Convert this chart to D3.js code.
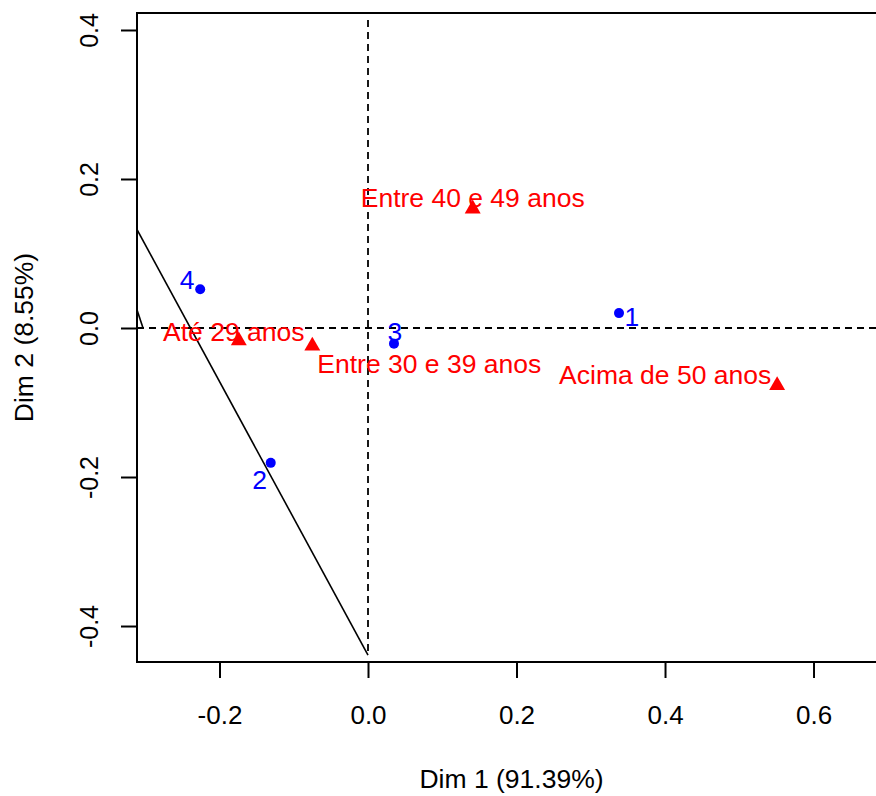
<!DOCTYPE html>
<html>
<head>
<meta charset="utf-8">
<script src="https://cdn.jsdelivr.net/npm/d3@7"></script>
<style>
  body { margin: 0; background: #fff; }
  svg { display: block; font-family: "Liberation Sans", Arial, sans-serif; }
</style>
</head>
<body>
<svg width="876" height="796"></svg>
<script>
// row points (blue)
const rowNames = ['1', '2', '3', '4'];
const rowDim1 = [0.338, -0.131, 0.035, -0.226];
const rowDim2 = [0.020, -0.181, -0.021, 0.052];

// column points (red)
const colNames = ['Até 29 anos', 'Entre 30 e 39 anos', 'Entre 40 e 49 anos', 'Acima de 50 anos'];
const colDim1 = [-0.174, -0.075, 0.141, 0.551];
const colDim2 = [-0.017, -0.024, 0.160, -0.077];

// solid segments
const segX = [[0.0, -0.311], [-0.311, -0.303]];
const segY = [[-0.439, 0.132], [0.024, 0.0]];

const xTicks = [-0.2, 0.0, 0.2, 0.4, 0.6];
const yTicks = [-0.4, -0.2, 0.0, 0.2, 0.4];
const xTitle = 'Dim 1 (91.39%)';
const yTitle = 'Dim 2 (8.55%)';

// label nudges in px (layout, not data)
const rowNudge = [[13, 4], [-11, 17], [1, -12], [-13, -9]];
const colNudge = [[-5, 0], [117, 27], [0, -2], [-112, -1]];

const svg = d3.select('svg');
const mLeft = 137, mRight = 886, mTop = 13, mBottom = 662;

const x = d3.scaleLinear().domain([-0.3111, 0.6976]).range([mLeft, mRight]);
const y = d3.scaleLinear().domain([-0.4483, 0.4228]).range([mBottom, mTop]);

// R style labels: plain hyphen for minus
const fmt = d => d3.format('.1f')(d).replace('\u2212', '-');

svg.append('clipPath').attr('id', 'clip')
    .append('rect')
    .attr('x', mLeft).attr('y', mTop)
    .attr('width', mRight - mLeft).attr('height', mBottom - mTop);

const plot = svg.append('g').attr('clip-path', 'url(#clip)');

// dashed reference lines
plot.append('line')
    .attr('x1', x(0)).attr('x2', x(0))
    .attr('y1', 20).attr('y2', y(-0.439))
    .attr('stroke', '#000').attr('stroke-width', 1.8)
    .attr('stroke-dasharray', '7,5');
plot.append('line')
    .attr('x1', mLeft).attr('x2', mRight)
    .attr('y1', y(0)).attr('y2', y(0))
    .attr('stroke', '#000').attr('stroke-width', 1.8)
    .attr('stroke-dasharray', '7,5');

// solid segments
segX.forEach((sx, i) => {
    plot.append('line')
        .attr('x1', x(sx[0])).attr('y1', y(segY[i][0]))
        .attr('x2', x(sx[1])).attr('y2', y(segY[i][1]))
        .attr('stroke', '#000').attr('stroke-width', 1.6);
});

// red triangles + labels
const tri = d3.symbol().type(d3.symbolTriangle).size(110);
colNames.forEach((name, i) => {
    const px = x(colDim1[i]), py = y(colDim2[i]);
    plot.append('path')
        .attr('d', tri)
        .attr('transform', `translate(${px},${py})`)
        .attr('fill', '#ff0000');
    plot.append('text')
        .attr('x', px + colNudge[i][0])
        .attr('y', py + colNudge[i][1])
        .attr('text-anchor', 'middle')
        .attr('font-size', 26.5)
        .attr('fill', '#ff0000')
        .text(name);
});

// blue points + labels
rowNames.forEach((name, i) => {
    const px = x(rowDim1[i]), py = y(rowDim2[i]);
    plot.append('circle')
        .attr('cx', px).attr('cy', py).attr('r', 5)
        .attr('fill', '#0000ff');
    plot.append('text')
        .attr('x', px + rowNudge[i][0])
        .attr('y', py + rowNudge[i][1])
        .attr('text-anchor', 'middle')
        .attr('dominant-baseline', 'central')
        .attr('font-size', 26.5)
        .attr('fill', '#0000ff')
        .text(name);
});

// box
svg.append('rect')
    .attr('x', mLeft).attr('y', mTop)
    .attr('width', mRight - mLeft).attr('height', mBottom - mTop)
    .attr('fill', 'none').attr('stroke', '#000').attr('stroke-width', 2);

// axes
const xAxis = svg.append('g')
    .attr('transform', `translate(0,${mBottom})`)
    .call(d3.axisBottom(x).tickValues(xTicks).tickFormat(fmt).tickSize(16));
const yAxis = svg.append('g')
    .attr('transform', `translate(${mLeft},0)`)
    .call(d3.axisLeft(y).tickValues(yTicks).tickFormat(fmt).tickSize(16));

[xAxis, yAxis].forEach(a => {
    a.select('.domain').remove();
    a.selectAll('.tick line').attr('stroke-width', 2);
    a.selectAll('text').attr('fill', '#000')
        .attr('font-family', '"Liberation Sans", Arial, sans-serif');
});
xAxis.selectAll('.tick text').attr('font-size', 26).attr('dy', null).attr('y', 62);
yAxis.selectAll('.tick text')
    .attr('font-size', 25)
    .attr('x', null).attr('dy', null)
    .attr('text-anchor', 'middle')
    .attr('transform', 'translate(-39,0) rotate(-90)');

// axis titles
svg.append('text')
    .attr('x', (mLeft + mRight) / 2).attr('y', 788)
    .attr('text-anchor', 'middle').attr('font-size', 26.5)
    .text(xTitle);
svg.append('text')
    .attr('transform', `translate(33,${(mTop + mBottom) / 2}) rotate(-90)`)
    .attr('text-anchor', 'middle').attr('font-size', 26.5)
    .text(yTitle);
</script>
</body>
</html>
